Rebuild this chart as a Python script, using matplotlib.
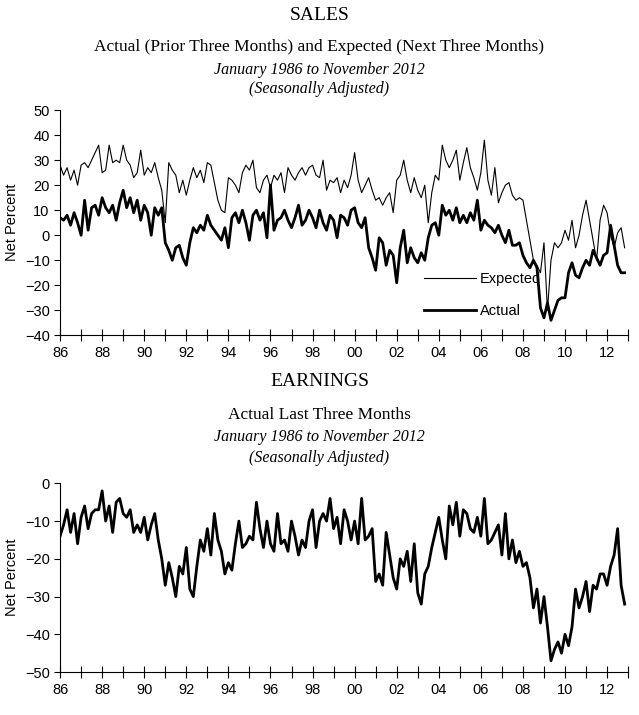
import numpy as np
import matplotlib.pyplot as plt

# bimonthly readings (Jan, Mar, May, Jul, Sep, Nov), 1986-2012
expected = [
    28, 24, 27, 22, 26, 20,  28, 29, 27, 30, 33, 36,  25, 26, 36, 29, 30, 29,
    36, 30, 28, 23, 25, 34,  24, 27, 25, 29, 23, 18,  5, 29, 26, 24, 17, 22,
    16, 22, 27, 23, 26, 21,  29, 28, 21, 14, 10, 9,   23, 22, 20, 17, 25, 28,
    26, 30, 19, 17, 22, 24,  19, 24, 22, 25, 17, 27,  24, 22, 25, 27, 24, 27,
    28, 24, 23, 30, 18, 22,  21, 23, 17, 22, 19, 24,  33, 22, 17, 20, 23, 18,
    14, 15, 12, 15, 17, 9,   22, 24, 30, 22, 17, 23,  18, 15, 20, 5, 17, 24,
    22, 36, 30, 27, 30, 34,  22, 29, 35, 27, 23, 18,  25, 38, 22, 16, 27, 13,
    17, 20, 21, 16, 14, 15,  14, 6, -2, -10, -12, -15, -3, -30, -10, -3, -5, -3,
    2, -2, 6, -5, 0, 8,      14, 6, -2, -10, 6, 12,   9, 0, -5, 1, 3, -5]
actual = [
    7, 6, 8, 4, 9, 5,        0, 14, 2, 11, 12, 8,     15, 11, 9, 12, 6, 13,
    18, 11, 15, 9, 14, 6,    12, 9, 0, 11, 8, 11,     -3, -6, -10, -5, -4, -9,
    -12, -3, 3, 1, 4, 2,     8, 4, 2, 0, -2, 3,       -5, 7, 9, 5, 10, 5,
    -2, 8, 10, 6, 9, -1,     20, 2, 6, 7, 10, 6,      3, 7, 12, 4, 6, 10,
    7, 3, 10, 5, 2, 8,       6, -1, 8, 7, 4, 10,      11, 5, 3, 7, -5, -9,
    -14, -1, -3, -12, -6, -8, -19, -5, 2, -11, -5, -9, -11, -7, -10, -1, 4, 5,
    0, 12, 8, 10, 6, 11,     5, 8, 5, 9, 6, 14,       2, 6, 4, 3, 1, 4,
    0, -3, 2, -4, -4, -3,    -8, -11, -13, -10, -13, -29, -33, -27, -34, -30, -26, -25,
    -25, -15, -11, -16, -17, -13, -10, -12, -6, -9, -12, -8, -7, 4, -4, -12, -15, -15]
earnings = [
    -14, -11, -7, -13, -8, -16, -9, -6, -12, -8, -7, -7, -2, -10, -6, -13, -5, -4,
    -8, -9, -7, -13, -11, -13, -9, -15, -11, -8, -15, -20, -27, -21, -25, -30, -22, -24,
    -17, -28, -30, -22, -15, -18, -12, -19, -8, -15, -18, -24, -21, -23, -16, -10, -17, -16,
    -14, -15, -5, -12, -17, -10, -16, -18, -8, -16, -15, -18, -10, -14, -19, -15, -17, -10,
    -7, -17, -10, -8, -10, -4, -12, -9, -16, -7, -10, -15, -10, -16, -4, -15, -14, -12,
    -26, -24, -27, -13, -19, -25, -28, -20, -22, -18, -26, -16, -29, -32, -24, -22, -17, -13,
    -9, -15, -20, -6, -11, -5, -14, -7, -8, -12, -13, -9, -14, -4, -16, -15, -13, -11,
    -19, -8, -20, -15, -21, -18, -22, -21, -25, -33, -28, -37, -30, -38, -47, -44, -42, -45,
    -40, -43, -38, -28, -33, -30, -26, -34, -27, -28, -24, -24, -27, -22, -19, -12, -27, -32]

t = 1986 + np.arange(len(actual)) / 6.0
years = np.arange(1986, 2014)
labels = ["%02d" % (y % 100) if y % 2 == 0 and y < 2013 else "" for y in years]

serif = "Liberation Serif"
plt.rcParams['font.family'] = "Liberation Sans"

fig = plt.figure(figsize=(6.39, 7.15), dpi=100)

def style(ax, lo, hi):
    ax.set_xlim(1986, 2013)
    ax.set_ylim(lo, hi)
    ax.set_xticks(years)
    ax.set_xticklabels(labels, fontsize=10.5)
    ax.set_yticks(np.arange(lo, hi + 1, 10))
    ax.tick_params(axis='y', labelsize=10.5, direction='out', length=4)
    ax.tick_params(axis='x', direction='inout', length=8)
    for s in ['top', 'right']:
        ax.spines[s].set_visible(False)
    ax.set_ylabel("Net Percent", fontsize=10.5)

ax1 = fig.add_axes([0.094, 0.531, 0.889, 0.315])
ax1.plot(t, expected, color='black', lw=0.8, label="Expected")
ax1.plot(t, actual, color='black', lw=2.0, label="Actual")
style(ax1, -40, 50)
ax1.legend(loc='lower right', bbox_to_anchor=(0.87, 0.02), frameon=False,
           fontsize=10.5, handlelength=3.5, labelspacing=1.2, handletextpad=0.3)

ax2 = fig.add_axes([0.094, 0.060, 0.889, 0.264])
ax2.plot(t, earnings, color='black', lw=2.0)
style(ax2, -50, 0)

fig.text(0.5, 0.978, "SALES", ha='center', va='center', family=serif, fontsize=14)
fig.text(0.5, 0.934, "Actual (Prior Three Months) and Expected (Next Three Months)",
         ha='center', va='center', family=serif, fontsize=12.5)
fig.text(0.5, 0.902, "January 1986 to November 2012", ha='center', va='center',
         family=serif, style='italic', fontsize=11.5)
fig.text(0.5, 0.875, "(Seasonally Adjusted)", ha='center', va='center',
         family=serif, style='italic', fontsize=11.5)
fig.text(0.5, 0.467, "EARNINGS", ha='center', va='center', family=serif, fontsize=14)
fig.text(0.5, 0.420, "Actual Last Three Months", ha='center', va='center',
         family=serif, fontsize=12.5)
fig.text(0.5, 0.389, "January 1986 to November 2012", ha='center', va='center',
         family=serif, style='italic', fontsize=11.5)
fig.text(0.5, 0.360, "(Seasonally Adjusted)", ha='center', va='center',
         family=serif, style='italic', fontsize=11.5)

fig.savefig("out.png", dpi=100)
